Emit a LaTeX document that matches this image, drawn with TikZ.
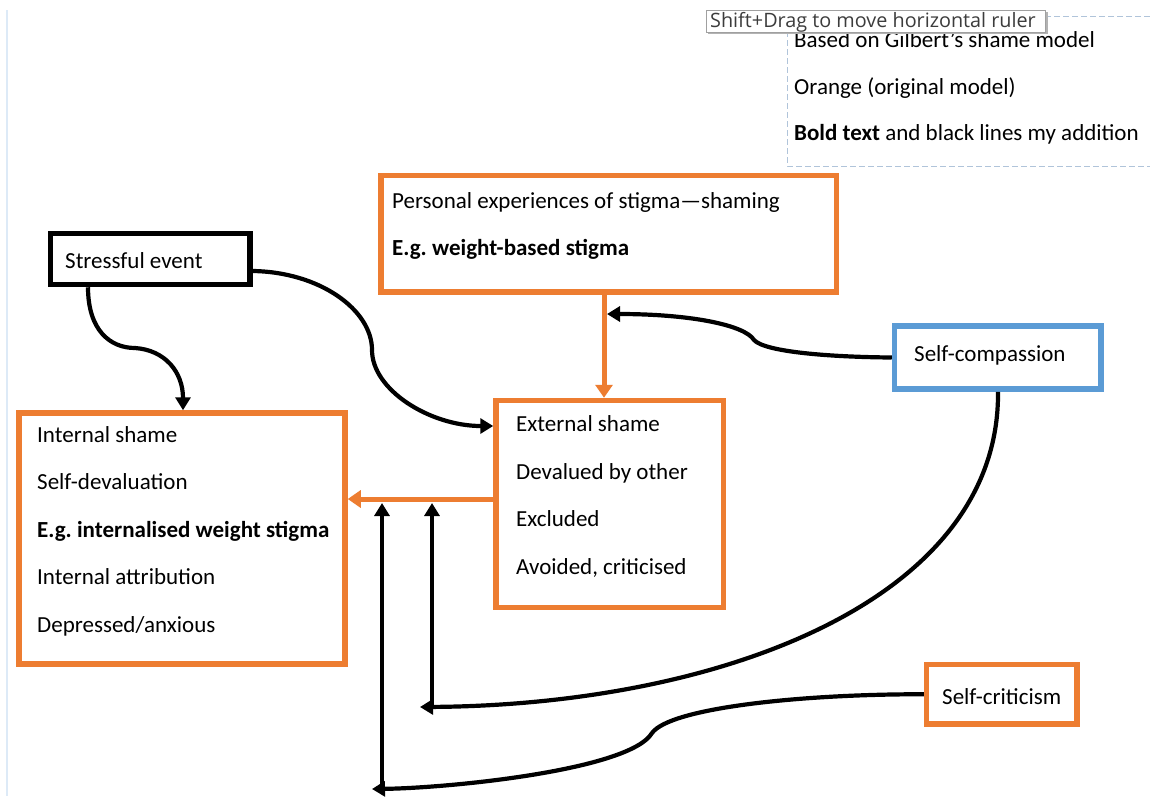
\documentclass[tikz,border=0pt]{standalone}
\usepackage{fontspec}
\setmainfont{Carlito}
\newfontfamily\tipfont{Open Sans}
\usetikzlibrary{arrows.meta}
\definecolor{orng}{HTML}{ED7D31}
\definecolor{blu}{HTML}{5B9BD5}
\definecolor{rulerblue}{HTML}{DDEAF7}
\definecolor{dashblue}{HTML}{B0C4DA}
\definecolor{tipgray}{HTML}{A0A0A0}
\definecolor{tiptext}{HTML}{3C3C3C}
\frenchspacing
\begin{document}
\begin{tikzpicture}[x=1pt,y=-1pt,
  box/.style={draw, line width=5.5pt, inner sep=0pt, fill=white},
  obox/.style={box, draw=orng},
  kbox/.style={box, draw=black},
  bbox/.style={box, draw=blu},
  txt/.style={anchor=base west, inner sep=0pt, font=\fontsize{23}{27}\selectfont},
  btxt/.style={txt, font=\fontsize{23}{27}\selectfont\bfseries},
  conn/.style={line width=4.2pt, -{Triangle[length=13pt,width=15pt]}},
  oconn/.style={draw=orng, line width=5pt, -{Triangle[length=13pt,width=17pt,fill=orng]}}]
\useasboundingbox (0,0) rectangle (1150,796);
\fill[white] (0,0) rectangle (1150,796);
% ruler line at left
\draw[rulerblue, line width=2pt] (7,10) -- (7,796);
% dashed legend frame
\draw[dashblue, line width=1pt, dash pattern=on 6pt off 3pt] (1150,16) -- (787,16) -- (787,166) -- (1150,166);
\node[txt] (l1) at (794,47) {Based on Gilbert’s shame model};
\node[txt] (l2) at (794,94) {Orange (original model)};
\node[txt] (l3) at (794,140) {\textbf{Bold text} and black lines my addition};
% tooltip
\fill[tipgray!80] (708,12) rectangle (1047.5,34);
\node[draw=tipgray, fill=white, line width=1pt, minimum width=339pt, minimum height=22pt, inner sep=0pt] (tip) at (875.5,21.5) {};
\node[anchor=base west, inner sep=0pt, text=tiptext, font=\tipfont\fontsize{19.8}{22}\selectfont] (tipt) at (710,27) {Shift+Drag to move horizontal ruler};
% boxes
\node[obox, minimum width=455.6pt, minimum height=116.5pt] (per) at (608.8,233.75) {};
\node[kbox, minimum width=199.5pt, minimum height=51pt] (se) at (150.25,259) {};
\node[bbox, minimum width=206.3pt, minimum height=63pt] (scomp) at (997.65,357.5) {};
\node[obox, minimum width=326pt, minimum height=251pt] (int) at (182,538.5) {};
\node[obox, minimum width=227.3pt, minimum height=207pt] (ext) at (609.65,504) {};
\node[obox, minimum width=150.3pt, minimum height=59.5pt] (scrit) at (1001.85,694.25) {};
% texts
\node[txt] (p1) at (392,208) {Personal experiences of stigma—shaming};
\node[btxt] (p2) at (392,255) {E.g. weight-based stigma};
\node[txt] (s1) at (65,268) {Stressful event};
\node[txt] (c1) at (914,361) {Self-compassion};
\node[txt] (i1) at (37,442) {Internal shame};
\node[txt] (i2) at (37,489.5) {Self-devaluation};
\node[btxt] (i3) at (37,537) {E.g. internalised weight stigma};
\node[txt] (i4) at (37,584.5) {Internal attribution};
\node[txt] (i5) at (37,632) {Depressed/anxious};
\node[txt] (e1) at (516,431.5) {External shame};
\node[txt] (e2) at (516,479) {Devalued by other};
\node[txt] (e3) at (516,526.5) {Excluded};
\node[txt] (e4) at (516,574) {Avoided, criticised};
\node[txt] (k1) at (942,704) {Self-criticism};
% helper coordinates
\coordinate (xv) at (604,0);
\coordinate (yh) at (0,499);
\coordinate (xa) at (88,0);
\coordinate (xb) at (183,0);
\coordinate (ya) at (0,271);
\coordinate (yb) at (0,426);
\coordinate (tipA) at (607,314);
\coordinate (xc) at (998,0);
\coordinate (endB) at (420,707);
\coordinate (baseB) at (432,707);
\coordinate (endC) at (372,789);
\coordinate (baseC) at (382,789);
\coordinate (yt) at (0,503);
% orange connectors
\draw[oconn] (xv |- per.south) -- (xv |- ext.north);
\draw[oconn] (ext.west |- yh) -- (int.east |- yh);
% black connectors
\draw[conn] (xa |- se.south) .. controls (88,330) and (110,348) .. (135,348) .. controls (165,350) and (183,372) .. (xb |- int.north);
\draw[conn] (se.east |- ya) .. controls (320,272) and (372,310) .. (372,350) .. controls (372,390) and (430,426) .. (ext.west |- yb);
\draw[conn] (scomp.west) .. controls (830,357) and (765,352) .. (754,340) .. controls (745,325) and (690,314) .. (tipA);
\draw[conn] (xc |- scomp.south) .. controls (1000,600) and (720,705) .. (endB);
\draw[conn] (baseB) -- (baseB |- yt);
\draw[conn] (scrit.west) .. controls (800,694) and (670,708) .. (652,733) .. controls (630,770) and (450,788) .. (endC);
\draw[conn] (baseC) -- (baseC |- yt);
\end{tikzpicture}
\end{document}
